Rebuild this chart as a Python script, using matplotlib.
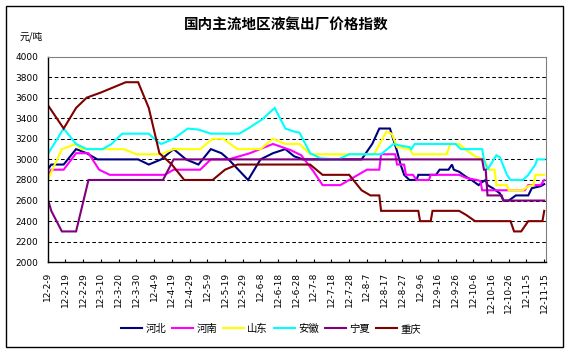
import matplotlib
matplotlib.use("Agg")
import matplotlib.pyplot as plt
import numpy as np

# x values are days counted from 2012-02-09
tick_labels = ["12-2-9", "12-2-19", "12-2-29", "12-3-10", "12-3-20", "12-3-30",
               "12-4-9", "12-4-19", "12-4-29", "12-5-9", "12-5-19", "12-5-29",
               "12-6-8", "12-6-18", "12-6-28", "12-7-8", "12-7-18", "12-7-28",
               "12-8-7", "12-8-17", "12-8-27", "12-9-6", "12-9-16", "12-9-26",
               "12-10-6", "12-10-16", "12-10-26", "12-11-5", "12-11-15"]

hebei_days = [0, 2, 9, 16, 22, 28, 51, 57, 64, 71, 78, 85, 92, 98, 102, 113, 120, 127,
              134, 139, 144, 177, 183, 187, 193, 197, 199, 201, 204, 208, 209, 219, 221,
              226, 228, 229, 232, 236, 239, 243, 245, 247, 248, 251, 255, 257, 260, 264,
              271, 273, 278, 280]
hebei = [2900, 2950, 2950, 3100, 3060, 3000, 3000, 2950, 3000, 3100, 3000, 2950, 3100,
         3060, 3000, 2800, 3000, 3060, 3100, 3030, 3000, 3000, 3150, 3300, 3300, 3080,
         2950, 2850, 2800, 2800, 2850, 2850, 2900, 2900, 2950, 2900, 2880, 2830, 2800,
         2750, 2780, 2800, 2750, 2720, 2670, 2600, 2600, 2650, 2650, 2720, 2740, 2760]

henan_days = [0, 2, 9, 16, 23, 29, 35, 66, 71, 86, 92, 102, 114, 127, 137, 143, 150, 155,
              165, 180, 187, 188, 196, 197, 201, 202, 206, 208, 215, 216, 232, 236, 242,
              244, 245, 269, 271, 278, 280]
henan = [2850, 2900, 2900, 3060, 3060, 2900, 2850, 2850, 2900, 2900, 3000, 3000, 3060,
         3150, 3090, 3040, 2880, 2750, 2750, 2900, 2900, 3050, 3050, 2950, 2950, 2850,
         2850, 2800, 2800, 2850, 2850, 2820, 2800, 2790, 2700, 2700, 2750, 2750, 2800]

shandong_days = [0, 8, 16, 19, 43, 50, 64, 71, 86, 93, 99, 107, 120, 127, 134, 142, 148,
                 184, 191, 194, 197, 204, 206, 225, 227, 232, 236, 241, 246, 249, 252,
                 253, 259, 260, 268, 271, 274, 275, 280]
shandong = [2800, 3100, 3150, 3100, 3100, 3050, 3050, 3100, 3100, 3200, 3200, 3100, 3100,
            3200, 3150, 3150, 3050, 3050, 3270, 3250, 3120, 3100, 3050, 3050, 3150, 3150,
            3090, 3030, 3000, 2900, 2900, 2750, 2750, 2700, 2700, 2740, 2750, 2850, 2850]

anhui_days = [0, 9, 16, 22, 31, 36, 42, 57, 62, 64, 71, 79, 85, 92, 108, 113, 121, 128,
              134, 139, 142, 148, 154, 164, 170, 188, 195, 200, 204, 205, 207, 230, 233,
              245, 246, 248, 253, 255, 259, 261, 268, 271, 275, 276, 280]
anhui = [3050, 3300, 3150, 3100, 3100, 3150, 3250, 3250, 3170, 3150, 3200, 3300, 3290,
         3250, 3250, 3300, 3390, 3500, 3300, 3270, 3260, 3060, 3010, 3000, 3050, 3050,
         3150, 3130, 3120, 3100, 3150, 3150, 3100, 3100, 3000, 2900, 3040, 3020, 2850,
         2800, 2800, 2850, 2950, 3000, 3000]

ningxia_days = [0, 2, 8, 16, 23, 65, 71, 245, 246, 247, 248, 256, 257, 280]
ningxia = [2620, 2500, 2300, 2300, 2800, 2800, 3000, 3000, 2900, 2900, 2650, 2650, 2600, 2600]

chongqing_days = [0, 9, 16, 22, 30, 37, 44, 51, 57, 63, 70, 77, 93, 100, 107, 148, 155,
                  170, 177, 182, 187, 188, 209, 210, 216, 217, 232, 236, 241, 261, 263,
                  267, 271, 279, 280]
chongqing = [3530, 3300, 3500, 3600, 3650, 3700, 3750, 3750, 3500, 3060, 2950, 2800, 2800,
             2900, 2950, 2950, 2850, 2850, 2700, 2650, 2650, 2500, 2500, 2400, 2400, 2500,
             2500, 2460, 2400, 2400, 2300, 2300, 2400, 2400, 2500]

series = [("河北", hebei_days, hebei, "#000080"),
          ("河南", henan_days, henan, "#FF00FF"),
          ("山东", shandong_days, shandong, "#FFFF00"),
          ("安徽", anhui_days, anhui, "#00FFFF"),
          ("宁夏", ningxia_days, ningxia, "#800080"),
          ("重庆", chongqing_days, chongqing, "#800000")]

cjk = ["Noto Sans CJK SC", "DejaVu Sans"]

fig = plt.figure(figsize=(5.69, 3.52), dpi=100)
ax = fig.add_axes([47.7 / 569, 1 - 262.3 / 352, (546 - 47.7) / 569, (262.3 - 56.5) / 352])

for name, d, v, c in series:
    ax.plot(d, v, color=c, lw=1.5, label=name, solid_joinstyle="miter")

ax.set_xlim(0, 281)
ax.set_ylim(2000, 4000)
ax.set_yticks(np.arange(2000, 4001, 200))
ax.set_xticks(np.arange(len(tick_labels)) * 10)
ax.set_xticklabels(tick_labels, rotation=90, fontsize=6.5, family="DejaVu Sans")
ax.tick_params(axis="x", direction="in", length=2.5, width=0.8, pad=7)
ax.tick_params(axis="y", length=0, pad=7, labelsize=6.5)

ax.grid(axis="y", color="black", lw=0.75, linestyle=(0, (3.5, 2.5)))
gl = ax.yaxis.get_gridlines()
gl[0].set_visible(False)
gl[-1].set_visible(False)

for s in ["top", "right"]:
    ax.spines[s].set_color("#808080")
ax.spines["left"].set_linewidth(1.0)
ax.spines["bottom"].set_linewidth(1.0)

fig.text(286 / 569, 1 - 25 / 352, "国内主流地区液氨出厂价格指数", ha="center", va="center",
         fontsize=10.5, fontweight="bold", family=cjk)
fig.text(20 / 569, 1 - 37 / 352, "元/吨", ha="left", va="center", fontsize=7, family=cjk)

fig.legend(loc="center", bbox_to_anchor=(271 / 569, 1 - 329 / 352), ncol=6, frameon=False,
           prop={"family": cjk, "size": 7.5}, handlelength=2.0, handletextpad=0.3,
           columnspacing=0.6)

border = plt.Rectangle((5.5 / 569, 1 - 346.7 / 352), (563 - 5.5) / 569, (346.7 - 5.5) / 352,
                       transform=fig.transFigure, fill=False, ec="black", lw=1.0)
fig.patches.append(border)

fig.savefig("out.png", dpi=100)
